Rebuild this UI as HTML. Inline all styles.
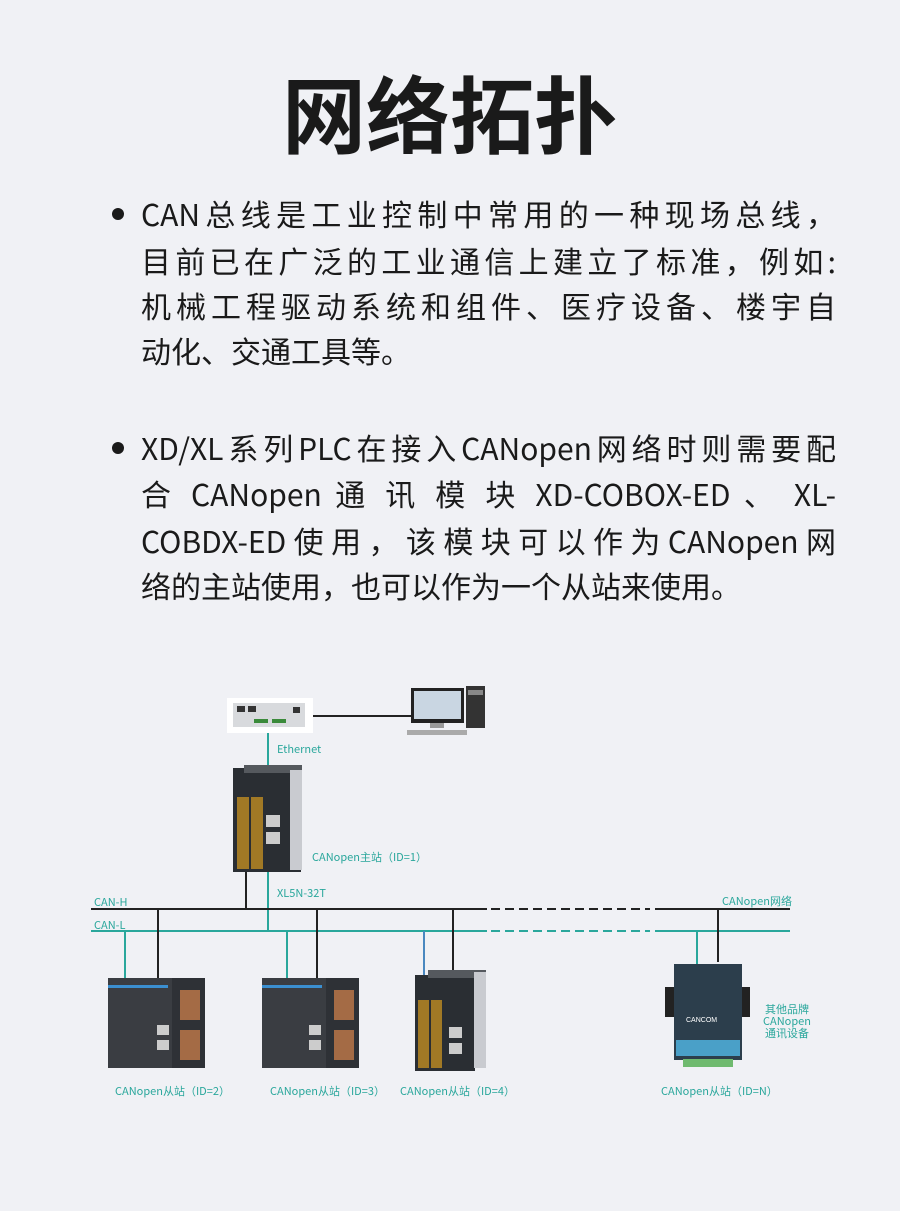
<!DOCTYPE html>
<html><head><meta charset="utf-8"><style>
*{margin:0;padding:0}
body{width:900px;height:1211px;background:#f0f1f5;position:relative;overflow:hidden;font-family:"Liberation Sans","Noto Sans CJK SC",sans-serif;color:#1a1a1a}
.t{position:absolute;left:0;width:900px;top:57px;text-align:center;font-size:84px;font-weight:700;letter-spacing:0px;font-family:"Noto Sans CJK SC",sans-serif;line-height:110px}
.l{position:absolute;left:141px;width:695px;font-size:30px;line-height:40px;text-align:justify;text-align-last:justify;white-space:nowrap;font-family:"Noto Sans CJK SC",sans-serif}
.nl{text-align-last:left}
.dot{position:absolute;left:112px;width:12px;height:12px;border-radius:50%;background:#1a1a1a}
.s{position:absolute;font-size:11px;color:#2aa79c;font-family:"Noto Sans CJK SC",sans-serif;white-space:nowrap}
</style></head><body>
<div class="t">网络拓扑</div>
<div class="dot" style="top:208px"></div>
<div class="l" style="top:193px">CAN总线是工业控制中常用的一种现场总线，</div>
<div class="l" style="top:240px">目前已在广泛的工业通信上建立了标准，例如:</div>
<div class="l" style="top:285px">机械工程驱动系统和组件、医疗设备、楼宇自</div>
<div class="l nl" style="top:330px">动化、交通工具等。</div>
<div class="dot" style="top:442px"></div>
<div class="l" style="top:427px">XD/XL系列PLC在接入CANopen网络时则需要配</div>
<div class="l" style="top:473px">合 CANopen 通 讯 模 块 XD-COBOX-ED 、 XL-</div>
<div class="l" style="top:520px">COBDX-ED使用，该模块可以作为CANopen网</div>
<div class="l nl" style="top:565px">络的主站使用，也可以作为一个从站来使用。</div>

<svg width="900" height="1211" style="position:absolute;left:0;top:0">
<rect x="227" y="698" width="86" height="35" fill="#fff"/>
<rect x="233" y="703" width="72" height="24" fill="#d8dadd"/>
<rect x="237" y="706" width="8" height="6" fill="#333"/><rect x="248" y="706" width="8" height="6" fill="#333"/>
<rect x="254" y="719" width="14" height="4" fill="#3a8a3a"/><rect x="272" y="719" width="14" height="4" fill="#3a8a3a"/>
<rect x="293" y="707" width="7" height="6" fill="#333"/>
<line x1="313" y1="716" x2="411" y2="716" stroke="#222" stroke-width="2"/>
<rect x="411" y="688" width="53" height="35" fill="#222"/><rect x="414" y="691" width="47" height="28" fill="#c9d6e2"/>
<rect x="430" y="723" width="14" height="5" fill="#999"/>
<rect x="407" y="730" width="60" height="5" fill="#aaa"/>
<rect x="466" y="686" width="19" height="42" fill="#333"/><rect x="468" y="690" width="15" height="5" fill="#888"/>
<line x1="268" y1="733" x2="268" y2="768" stroke="#2aa79c" stroke-width="2"/>
<rect x="233" y="768" width="68" height="104" fill="#2a2e33"/>
<rect x="244" y="765" width="58" height="8" fill="#55595e"/>
<rect x="290" y="770" width="12" height="100" fill="#c9cbd0"/>
<rect x="237" y="797" width="12" height="72" fill="#d49a20" opacity=".7"/>
<rect x="251" y="797" width="12" height="72" fill="#d49a20" opacity=".7"/>
<rect x="266" y="815" width="14" height="12" fill="#ccc"/><rect x="266" y="832" width="14" height="12" fill="#ccc"/>
<line x1="246" y1="872" x2="246" y2="909" stroke="#222" stroke-width="2"/>
<line x1="268" y1="872" x2="268" y2="931" stroke="#2aa79c" stroke-width="2"/>
<line x1="91" y1="909" x2="487" y2="909" stroke="#222" stroke-width="2"/>
<line x1="491" y1="909" x2="650" y2="909" stroke="#222" stroke-width="2" stroke-dasharray="9,5"/>
<line x1="655" y1="909" x2="790" y2="909" stroke="#222" stroke-width="2"/>
<line x1="91" y1="931" x2="487" y2="931" stroke="#2aa79c" stroke-width="2"/>
<line x1="491" y1="931" x2="650" y2="931" stroke="#2aa79c" stroke-width="2" stroke-dasharray="9,5"/>
<line x1="655" y1="931" x2="790" y2="931" stroke="#2aa79c" stroke-width="2"/>
<line x1="125" y1="931" x2="125" y2="980" stroke="#2aa79c" stroke-width="2"/>
<line x1="158" y1="909" x2="158" y2="978" stroke="#222" stroke-width="2"/>
<line x1="287" y1="931" x2="287" y2="980" stroke="#2aa79c" stroke-width="2"/>
<line x1="317" y1="909" x2="317" y2="978" stroke="#222" stroke-width="2"/>
<line x1="424" y1="931" x2="424" y2="975" stroke="#4a88c0" stroke-width="2"/>
<line x1="453" y1="909" x2="453" y2="972" stroke="#222" stroke-width="2"/>
<line x1="697" y1="931" x2="697" y2="965" stroke="#2aa79c" stroke-width="2"/>
<line x1="718" y1="909" x2="718" y2="962" stroke="#222" stroke-width="2"/>
<g>
<rect x="108" y="978" width="97" height="90" fill="#3a3d42"/>
<rect x="108" y="985" width="60" height="3" fill="#3b8fd0"/>
<rect x="172" y="978" width="33" height="90" fill="#2e3136"/>
<rect x="180" y="990" width="20" height="30" fill="#c27a4a" opacity=".8"/><rect x="180" y="1030" width="20" height="30" fill="#c27a4a" opacity=".8"/>
<rect x="157" y="1025" width="12" height="10" fill="#ccc"/><rect x="157" y="1040" width="12" height="10" fill="#ccc"/>
</g>
<g>
<rect x="262" y="978" width="97" height="90" fill="#3a3d42"/>
<rect x="262" y="985" width="60" height="3" fill="#3b8fd0"/>
<rect x="326" y="978" width="33" height="90" fill="#2e3136"/>
<rect x="334" y="990" width="20" height="30" fill="#c27a4a" opacity=".8"/><rect x="334" y="1030" width="20" height="30" fill="#c27a4a" opacity=".8"/>
<rect x="309" y="1025" width="12" height="10" fill="#ccc"/><rect x="309" y="1040" width="12" height="10" fill="#ccc"/>
</g>
<rect x="415" y="975" width="60" height="96" fill="#2a2e33"/>
<rect x="428" y="970" width="58" height="8" fill="#55595e"/>
<rect x="474" y="972" width="12" height="96" fill="#c9cbd0"/>
<rect x="418" y="1000" width="11" height="68" fill="#d49a20" opacity=".7"/><rect x="431" y="1000" width="11" height="68" fill="#d49a20" opacity=".7"/>
<rect x="449" y="1027" width="13" height="11" fill="#ccc"/><rect x="449" y="1043" width="13" height="11" fill="#ccc"/>
<rect x="665" y="987" width="12" height="30" fill="#222"/><rect x="738" y="987" width="12" height="30" fill="#222"/>
<rect x="674" y="964" width="68" height="96" fill="#2c3e4c"/>
<rect x="676" y="1040" width="64" height="16" fill="#4aa0c8"/>
<rect x="683" y="1059" width="50" height="8" fill="#6fba6f"/>
<text x="686" y="1022" font-size="7" fill="#fff" font-family="Liberation Sans">CANCOM</text>
</svg>
<div class="s" style="left:277px;top:741px">Ethernet</div>
<div class="s" style="left:312px;top:849px">CANopen主站（ID=1）</div>
<div class="s" style="left:277px;top:885px">XL5N-32T</div>
<div class="s" style="left:94px;top:894px">CAN-H</div>
<div class="s" style="left:94px;top:917px">CAN-L</div>
<div class="s" style="left:722px;top:893px">CANopen网络</div>
<div class="s" style="left:115px;top:1083px">CANopen从站（ID=2）</div>
<div class="s" style="left:270px;top:1083px">CANopen从站（ID=3）</div>
<div class="s" style="left:400px;top:1083px">CANopen从站（ID=4）</div>
<div class="s" style="left:661px;top:1083px">CANopen从站（ID=N）</div>
<div class="s" style="left:757px;top:1003px;text-align:center;line-height:12px;width:60px">其他品牌<br>CANopen<br>通讯设备</div>
</body></html>
